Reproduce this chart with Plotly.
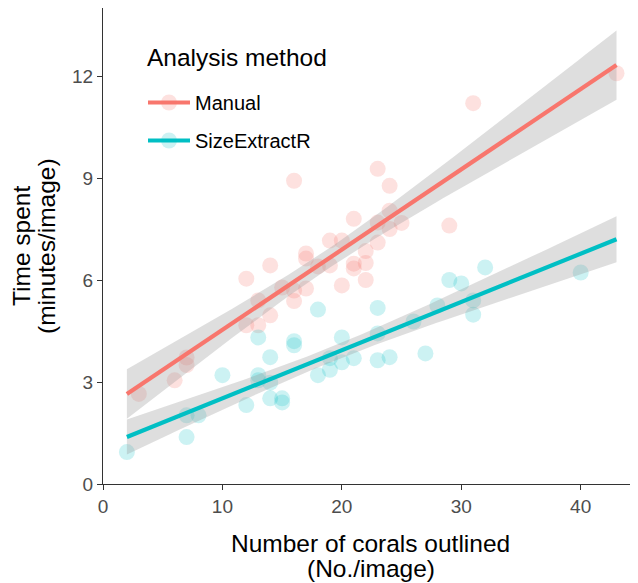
import numpy as np
import plotly.graph_objects as go

# ---- data ----
manual_x = [3, 6, 7, 7, 12, 12, 13, 13, 14, 14, 15, 16, 16, 16, 17, 17, 17, 18, 19, 19,
            20, 20, 21, 21, 21, 22, 22, 22, 23, 23, 23, 24, 24, 24, 25, 29, 31, 43]
manual_y = [2.65, 3.05, 3.50, 3.72, 4.67, 6.04, 4.67, 5.40, 4.96, 6.43, 5.78, 5.69, 5.38, 8.92,
            5.75, 6.63, 6.78, 6.40, 6.43, 7.16, 5.84, 7.16, 6.34, 6.48, 7.80, 6.00, 6.50, 6.85,
            7.10, 7.69, 9.27, 7.50, 8.04, 8.77, 7.68, 7.60, 11.20, 12.08]

sizer_x = [2, 7, 7, 8, 10, 12, 13, 13, 13, 14, 14, 14, 15, 15, 16, 16, 18, 18, 19, 19,
           20, 20, 21, 23, 23, 23, 24, 26, 27, 28, 29, 30, 31, 31, 32, 40]
sizer_y = [0.94, 1.38, 2.02, 2.02, 3.20, 2.32, 3.20, 3.05, 4.31, 3.73, 2.98, 2.52, 2.40, 2.52,
           4.08, 4.20, 5.13, 3.20, 3.36, 3.70, 4.31, 3.58, 3.70, 5.18, 4.43, 3.64, 3.73, 4.78,
           3.84, 5.25, 6.00, 5.90, 5.40, 4.98, 6.37, 6.22]

groups = ["Manual", "SizeExtractR"]
colors = {"Manual": "#F8766D", "SizeExtractR": "#00BFC4"}
fills = {"Manual": "rgba(248,118,109,0.22)", "SizeExtractR": "rgba(0,191,196,0.20)"}
T_CRIT = 2.03  # ~97.5% t quantile for df ~ 35

x_ticks = [0, 10, 20, 30, 40]
y_ticks = [0, 3, 6, 9, 12]

x_title = ["Number of corals outlined", "(No./image)"]
y_title = ["Time spent", "(minutes/image)"]
legend_title = "Analysis method"

data = {"Manual": (manual_x, manual_y), "SizeExtractR": (sizer_x, sizer_y)}
all_x = manual_x + sizer_x
xs_fit = np.linspace(min(all_x), max(all_x), 80)

FONT = "Liberation Sans, Arial, sans-serif"

# page geometry (the page body adds an 8px offset)
OFF = 8
W, H = 638 - OFF, 583 - OFF
PL, PR, PT, PB = 103, 638, 8, 484  # plot area in window pixels


def px2paper(X, Y):
    return (X - PL) / (PR - PL), (PB - Y) / (PB - PT)


def lm_band(x, y, xs):
    x = np.asarray(x, float); y = np.asarray(y, float)
    n = len(x)
    b, a = np.polyfit(x, y, 1)
    yhat = a + b * x
    s = np.sqrt(np.sum((y - yhat) ** 2) / (n - 2))
    xm = x.mean(); sxx = np.sum((x - xm) ** 2)
    fit = a + b * xs
    se = s * np.sqrt(1.0 / n + (xs - xm) ** 2 / sxx)
    return fit, fit - T_CRIT * se, fit + T_CRIT * se


fig = go.Figure()

for g in groups:
    x, y = data[g]
    fig.add_trace(go.Scatter(x=x, y=y, mode="markers", showlegend=False,
                             marker=dict(size=16, color=fills[g], line=dict(width=0)),
                             hoverinfo="skip"))

for g in groups:
    x, y = data[g]
    fit, lo, hi = lm_band(x, y, xs_fit)
    fig.add_trace(go.Scatter(x=np.concatenate([xs_fit, xs_fit[::-1]]),
                             y=np.concatenate([hi, lo[::-1]]),
                             fill="toself", fillcolor="rgba(153,153,153,0.32)",
                             line=dict(width=0), mode="lines", showlegend=False,
                             hoverinfo="skip"))
for g in groups:
    x, y = data[g]
    fit, lo, hi = lm_band(x, y, xs_fit)
    fig.add_trace(go.Scatter(x=xs_fit, y=fit, mode="lines", showlegend=False,
                             line=dict(color=colors[g], width=4.2), hoverinfo="skip"))

for g in groups:
    fig.add_trace(go.Scatter(x=[None], y=[None], mode="lines+markers", name=g,
                             legendgroup=g,
                             line=dict(color=colors[g], width=4.2),
                             marker=dict(size=16, color=fills[g])))

axis_common = dict(showline=True, linecolor="#333333", linewidth=1.1,
                   ticks="outside", ticklen=5, tickwidth=1.1, tickcolor="#333333",
                   showgrid=False, zeroline=False, automargin=False,
                   tickfont=dict(family=FONT, size=19, color="#4D4D4D"))

annotations = []
tfont = dict(family=FONT, size=24.5, color="black")
for txt, Y in zip(x_title, [543, 568]):
    xp, yp = px2paper((PL + PR) / 2, Y)
    annotations.append(dict(text=txt, x=xp, y=yp, xref="paper", yref="paper",
                            xanchor="center", yanchor="middle", showarrow=False, font=tfont))
for txt, X in zip(y_title, [21, 46]):
    xp, yp = px2paper(X, (PT + PB) / 2)
    annotations.append(dict(text=txt, x=xp, y=yp, xref="paper", yref="paper", textangle=-90,
                            xanchor="center", yanchor="middle", showarrow=False, font=tfont))
xp, yp = px2paper(145, 58)
annotations.append(dict(text=legend_title, x=xp, y=yp, xref="paper", yref="paper",
                        xanchor="left", yanchor="middle", showarrow=False, font=tfont))

lx, ly = px2paper(143, 83)

fig.update_layout(
    width=W, height=H,
    margin=dict(l=PL - OFF, r=0, t=PT - OFF, b=H - (PB - OFF)),
    paper_bgcolor="white", plot_bgcolor="white",
    xaxis=dict(range=[0, 44.8], tickvals=x_ticks, **axis_common),
    yaxis=dict(range=[0, 14], tickvals=y_ticks, **axis_common),
    legend=dict(x=lx, y=ly, xanchor="left", yanchor="top",
                bgcolor="rgba(0,0,0,0)",
                font=dict(family=FONT, size=20, color="black"),
                tracegroupgap=9, itemwidth=42),
    annotations=annotations,
    showlegend=True,
)

fig.write_html("out.html")
